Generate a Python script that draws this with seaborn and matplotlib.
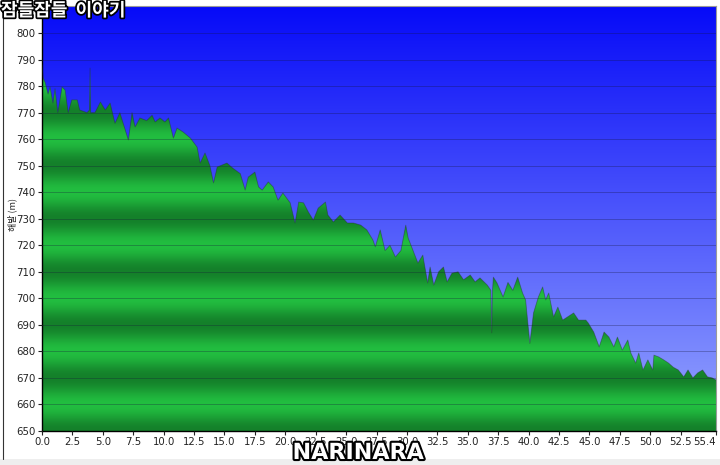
import numpy as np
import matplotlib
matplotlib.use("Agg")
import matplotlib.pyplot as plt
import seaborn as sns
import matplotlib.patheffects as pe
from matplotlib.patches import Rectangle
from matplotlib.lines import Line2D

sns.set_style("white")
plt.rcParams["font.family"] = ["DejaVu Sans", "Noto Sans CJK KR"]

distance_km = [0.0, 0.1, 0.25, 0.5, 0.66, 0.9, 1.07, 1.3, 1.65, 1.9, 2.15, 2.45, 2.9, 3.1, 3.7,
               3.9, 3.95, 4.0, 4.35, 4.8, 5.2, 5.6, 6.0, 6.4, 7.1, 7.4, 7.65, 8.05, 8.6, 9.05,
               9.3, 9.7, 10.1, 10.4, 10.8, 11.1, 11.6, 12.2, 12.75, 13.0, 13.4, 13.8, 14.1, 14.4,
               15.2, 15.7, 16.3, 16.7, 16.95, 17.5, 17.8, 18.1, 18.6, 19.0, 19.4, 19.8, 20.4,
               20.8, 21.1, 21.5, 21.9, 22.3, 22.7, 23.3, 23.5, 23.95, 24.5, 25.1, 25.6, 26.2,
               26.7, 27.2, 27.4, 27.8, 28.2, 28.6, 29.05, 29.5, 29.9, 30.1, 30.5, 30.9, 31.3,
               31.7, 31.9, 32.2, 32.6, 33.0, 33.3, 33.7, 34.2, 34.65, 35.2, 35.6, 36.0, 36.6,
               36.9, 36.97, 37.03, 37.1, 37.4, 37.9, 38.3, 38.7, 39.1, 39.5, 39.75, 40.1, 40.4,
               40.8, 41.15, 41.4, 41.65, 42.05, 42.4, 42.8, 43.2, 43.7, 44.1, 44.7, 44.9, 45.35,
               45.8, 46.2, 46.6, 47.0, 47.3, 47.7, 48.15, 48.4, 48.8, 49.05, 49.4, 49.8, 50.2,
               50.3, 50.7, 51.1, 51.5, 51.9, 52.3, 52.75, 53.1, 53.5, 53.9, 54.3, 54.7, 55.1, 55.4]
elevation_m = [788, 783, 781.5, 777, 779.7, 773.6, 779, 770, 779.7, 778.5, 770, 774.8, 774.8, 771, 770,
               771, 786.8, 770, 770, 774, 771, 773.6, 766, 770, 759.7, 770, 764.6, 768, 767, 769,
               766.5, 768, 766.5, 768, 760.4, 764.2, 762.7, 760.4, 757, 751, 754.8, 750, 743.5, 749.5,
               751, 749, 747, 740.8, 745.7, 747.6, 742, 740.8, 743.9, 742, 737, 739.7, 736,
               728.4, 736.3, 736, 732.5, 729.5, 734, 736.3, 731.4, 728.8, 731.4, 728.4, 728.4, 727.6,
               725.8, 722, 719.4, 725.8, 718, 720, 715.6, 718, 727.6, 722.7, 718, 713.3, 716.3,
               705.8, 711.8, 705, 710, 711.8, 706.2, 709.5, 710, 707, 708.8, 706.2, 707.7, 705,
               703, 687, 703, 708, 705.8, 700.5, 706, 703, 708, 702, 699.4, 683, 694.5,
               700.5, 704.3, 699.4, 702, 693, 696.7, 691.8, 693, 694.5, 691.8, 691.8, 690.7, 687.3,
               681.7, 687.3, 685.4, 681.7, 685.4, 680.5, 684.3, 679.4, 675.6, 679.4, 673, 676.8, 673,
               678.6, 677.9, 676.8, 675.6, 674, 673, 670.4, 673, 670, 671.9, 673, 670.4, 670, 669.2]

y_ticks = list(range(650, 801, 10))
x_ticks = [0.0, 2.5, 5.0, 7.5, 10.0, 12.5, 15.0, 17.5, 20.0, 22.5, 25.0, 27.5, 30.0, 32.5,
           35.0, 37.5, 40.0, 42.5, 45.0, 47.5, 50.0, 52.5, 55.4]
x_labels = [f"{v:.1f}" for v in x_ticks]
y_label = "해발 (m)"
title_mark = "잠들잠들  이야기"
credit_mark = "NARINARA"

W, H = 720, 465
fig = plt.figure(figsize=(W / 100, H / 100), dpi=100)
fig.patch.set_facecolor("white")
ax = fig.add_axes([42 / W, 34 / H, 674 / W, 425 / H])
xmin, xmax, ymin, ymax = 0.0, 55.4, 650, 810.2
ax.set_xlim(xmin, xmax)
ax.set_ylim(ymin, ymax)

# blue sky gradient
s = np.linspace(0, 1, 256)[:, None]
top = np.array([6, 10, 248]) / 255
bot = np.array([150, 166, 255]) / 255
sky = bot + (top - bot) * s
ax.imshow(np.repeat(sky[:, None, :], 2, axis=1), extent=[xmin, xmax, ymin, ymax],
          origin="lower", aspect="auto", zorder=0, interpolation="bilinear")

# green banded fill
ev = np.linspace(ymin, ymax, 1200)
t = ((ev - 650) % 20) / 20
w = 0.5 - 0.5 * np.cos(2 * np.pi * t)
dark = np.array([20, 128, 42]) / 255
light = np.array([34, 190, 64]) / 255
g = dark + (light - dark) * w[:, None]
poly = ax.fill_between(distance_km, elevation_m, ymin, color="none", lw=0, zorder=1)
im = ax.imshow(np.repeat(g[:, None, :], 2, axis=1), extent=[xmin, xmax, ymin, ymax],
               origin="lower", aspect="auto", zorder=1, interpolation="bilinear")
im.set_clip_path(poly.get_paths()[0], poly.get_transform())

sns.lineplot(x=distance_km, y=elevation_m, ax=ax, color="#26302c", lw=0.6, alpha=0.45,
             zorder=3, sort=False)

ax.set_yticks(y_ticks)
ax.set_xticks(x_ticks)
ax.set_xticklabels(x_labels)
ax.get_xticklabels()[-1].set_ha("right")
ax.grid(axis="y", color="#14143a", lw=0.7, alpha=0.3)
ax.grid(axis="x", visible=False)
ax.set_axisbelow(False)
ax.tick_params(axis="both", labelsize=7.3, colors="#222222", length=3, width=0.8,
               direction="out", pad=1.5, left=True, bottom=True)
for sp in ["left", "bottom"]:
    ax.spines[sp].set_color("black")
    ax.spines[sp].set_linewidth(1.0)
for sp in ["top", "right"]:
    ax.spines[sp].set_color("#9a9a9a")
    ax.spines[sp].set_linewidth(0.8)
ax.set_ylabel(y_label, fontsize=6.5, family=["Noto Sans CJK KR", "DejaVu Sans"], color="#222222")
ax.yaxis.set_label_coords(-0.037, 0.51)

# page frame
fig.add_artist(Rectangle((0, 0), 1, 6 / H, transform=fig.transFigure, color="#eeeeee", lw=0))
fig.add_artist(Line2D([2.5 / W, 2.5 / W], [6 / H, 1], transform=fig.transFigure, color="#333333", lw=0.8))

fig.text(1 / W, 1 - 1 / H, title_mark, fontsize=13, fontweight="bold", color="white",
         family=["Noto Sans CJK KR"], va="top", ha="left",
         path_effects=[pe.withStroke(linewidth=2.5, foreground="black")])
fig.text(358 / W, 2 / H, credit_mark, fontsize=16, fontweight="bold", color="white",
         va="bottom", ha="center",
         path_effects=[pe.withStroke(linewidth=3, foreground="black")])

fig.savefig("out.png", dpi=100)
